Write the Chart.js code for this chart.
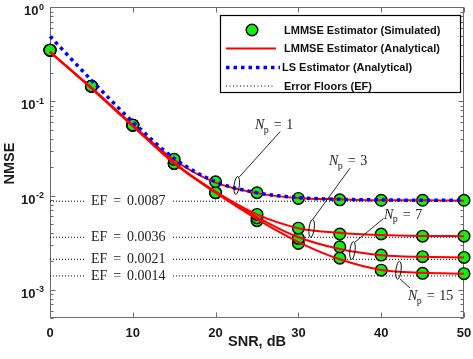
<!DOCTYPE html>
<html><head><meta charset="utf-8">
<script src="https://cdn.jsdelivr.net/npm/chart.js@4.4.1/dist/chart.umd.min.js"></script>
<style>html,body{margin:0;padding:0;background:#fff;overflow:hidden}</style>
</head><body>
<canvas id="c" width="473" height="359"></canvas>
<script>
// ---------------- data ----------------
const snrDb = [0, 5, 10, 15, 20, 25, 30, 35, 40, 45, 50];

const simNp1  = [0.35, 0.145, 0.0559, 0.0242, 0.0140, 0.0107, 0.0093, 0.0090, 0.0089, 0.0089, 0.0089];
const simNp3  = [0.35, 0.145, 0.0559, 0.0219, 0.0107, 0.0063, 0.0045, 0.0039, 0.0039, 0.0037, 0.0037];
const simNp7  = [0.35, 0.145, 0.0559, 0.0219, 0.0107, 0.0058, 0.0035, 0.00285, 0.00233, 0.00224, 0.0022];
const simNp15 = [0.35, 0.145, 0.0559, 0.0219, 0.0107, 0.0054, 0.0031, 0.00216, 0.00161, 0.00149, 0.00148];

const anaNp1  = [0.335, 0.140, 0.0560, 0.0238, 0.0137, 0.0106, 0.0094, 0.0091, 0.0089, 0.0089, 0.0088];
const anaNp3  = [0.335, 0.138, 0.0548, 0.0222, 0.0110, 0.0063, 0.0045, 0.0040, 0.0038, 0.00372, 0.0037];
const anaNp7  = [0.335, 0.138, 0.0548, 0.0220, 0.0108, 0.0059, 0.0036, 0.0027, 0.00232, 0.00223, 0.0022];
const anaNp15 = [0.335, 0.138, 0.0548, 0.0219, 0.0107, 0.0056, 0.0032, 0.0021, 0.00162, 0.00151, 0.00148];

const lsAnalytic = [0.49, 0.168, 0.0606, 0.0248, 0.0140, 0.0107, 0.0095, 0.0091, 0.0090, 0.0089, 0.0089];

const errorFloors = [0.0087, 0.0036, 0.0021, 0.0014];
const errorFloorTexts = ['0.0087', '0.0036', '0.0021', '0.0014'];

const pilotLabels = ['1', '3', '7', '15'];

const xTickValues = [0, 10, 20, 30, 40, 50];
const yDecades = [1, 0.1, 0.01, 0.001];
const yExponents = ['0', '-1', '-2', '-3'];

const legendLabels = ['LMMSE Estimator (Simulated)', 'LMMSE Estimator (Analytical)', 'LS Estimator (Analytical)', 'Error Floors (EF)'];
const xTitle = 'SNR, dB';
const yTitle = 'NMSE';

// annotation anchors in data coordinates (ellipse centre, leader start, leader end, text position)
const pilotNotes = [
  {ell:[22.55, 0.0128], a:[22.85, 0.0157], b:[27.8, 0.0477], t:[24.76, 0.0507]},
  {ell:[31.6, 0.00448], a:[31.76, 0.00562], b:[36.23, 0.0195], t:[33.7, 0.0210]},
  {ell:[36.53, 0.0026], a:[36.84, 0.0032], b:[40.28, 0.00569], t:[40.34, 0.00569]},
  {ell:[42.09, 0.00161], a:[42.27, 0.00130], b:[43.48, 0.00104], t:[43.24, 0.000776]}
];

// ---------------- build ----------------
const pts = arr => arr.map((v, i) => ({x: snrDb[i], y: v}));
const GREEN = '#11ee11';
const datasets = [];
datasets.push({label: legendLabels[2], data: pts(lsAnalytic), borderColor: '#0000ff', borderWidth: 3.5,
  borderDash: [3.5, 4], pointRadius: 0, cubicInterpolationMode: 'monotone', order: 0, clip: false});
[anaNp1, anaNp3, anaNp7, anaNp15].forEach(a => datasets.push({label: legendLabels[1], data: pts(a),
  borderColor: '#ff0000', borderWidth: 2, pointRadius: 0, cubicInterpolationMode: 'monotone', order: 1, clip: false}));
[simNp1, simNp3, simNp7, simNp15].forEach(a => datasets.push({label: legendLabels[0], data: pts(a),
  showLine: false, pointRadius: 5.8, pointBackgroundColor: GREEN, pointBorderColor: '#000',
  pointBorderWidth: 1.4, order: 2, clip: false}));
errorFloors.forEach(v => datasets.push({label: legendLabels[3],
  data: [{x: snrDb[0], y: v}, {x: snrDb[snrDb.length - 1], y: v}],
  borderColor: '#000', borderWidth: 1, borderDash: [1, 2], pointRadius: 0, order: 3}));

const AXIS = '#6a6a6a';
const SANS = '"Liberation Sans", Arial, sans-serif';
const SERIF = '"Liberation Serif", "Times New Roman", serif';

function drawNp(ctx, x, y, num) {
  ctx.fillStyle = '#222';
  ctx.textBaseline = 'alphabetic';
  ctx.textAlign = 'left';
  ctx.font = 'italic 14px ' + SERIF;
  ctx.fillText('N', x, y);
  let w = ctx.measureText('N').width;
  ctx.font = '10px ' + SERIF;
  ctx.fillText('p', x + w - 0.5, y + 3.5);
  w += ctx.measureText('p').width + 4.5;
  ctx.font = '14px ' + SERIF;
  ctx.fillText('=', x + w, y);
  w += ctx.measureText('=').width + 4.5;
  ctx.fillText(num, x + w, y);
}

const plugin = {
  id: 'matlabish',
  beforeDatasetsDraw(chart) {
    const {ctx, chartArea: ca, scales: {x, y}} = chart;
    ctx.save();
    ctx.strokeStyle = AXIS;
    ctx.lineWidth = 1;
    const L = Math.round(ca.left) + 0.5, R = Math.round(ca.right) - 0.5;
    const T = Math.round(ca.top) + 0.5, B = Math.round(ca.bottom) - 0.5;
    ctx.strokeRect(L, T, R - L, B - T);
    ctx.beginPath();
    xTickValues.forEach(t => {
      const px = Math.round(x.getPixelForValue(t)) + 0.5;
      ctx.moveTo(px, B); ctx.lineTo(px, B - 5);
      ctx.moveTo(px, T); ctx.lineTo(px, T + 5);
    });
    const ymin = y.min, ymax = y.max;
    [0.0001, 0.001, 0.01, 0.1, 1].forEach(d => {
      for (let m = 1; m <= 9; m++) {
        const v = m * d;
        if (v < ymin * 0.999 || v > ymax * 1.001) continue;
        const len = m === 1 ? 5 : 3;
        const py = Math.round(y.getPixelForValue(v)) + 0.5;
        ctx.moveTo(L, py); ctx.lineTo(L + len, py);
        ctx.moveTo(R, py); ctx.lineTo(R - len, py);
      }
    });
    ctx.stroke();
    ctx.restore();
  },
  afterDatasetsDraw(chart) {
    const {ctx, scales: {x, y}} = chart;
    ctx.save();
    // error-floor labels
    errorFloors.forEach((v, i) => {
      const cx = x.getPixelForValue(9.45), py = y.getPixelForValue(v);
      ctx.fillStyle = '#fff';
      ctx.fillRect(cx - 43, py - 5, 86, 10);
      ctx.fillStyle = '#222';
      ctx.font = '14px ' + SERIF;
      ctx.textBaseline = 'middle';
      const parts = ['EF', '=', errorFloorTexts[i]];
      const ws = parts.map(p => ctx.measureText(p).width);
      const total = ws[0] + ws[1] + ws[2] + 12;
      let px = cx - total / 2;
      ctx.textAlign = 'left';
      ctx.fillText(parts[0], px, py + 0.5); px += ws[0] + 6;
      ctx.fillText(parts[1], px, py + 0.5); px += ws[1] + 6;
      ctx.fillText(parts[2], px, py + 0.5);
    });
    // N_p annotations
    ctx.strokeStyle = '#111';
    pilotNotes.forEach((n, i) => {
      const ex = x.getPixelForValue(n.ell[0]), ey = y.getPixelForValue(n.ell[1]);
      ctx.lineWidth = 1;
      ctx.beginPath();
      ctx.ellipse(ex, ey, 2.6, 9, 0.12, 0, Math.PI * 2);
      ctx.stroke();
      ctx.lineWidth = 0.9;
      ctx.beginPath();
      ctx.moveTo(x.getPixelForValue(n.a[0]), y.getPixelForValue(n.a[1]));
      ctx.lineTo(x.getPixelForValue(n.b[0]), y.getPixelForValue(n.b[1]));
      ctx.stroke();
      drawNp(ctx, x.getPixelForValue(n.t[0]), y.getPixelForValue(n.t[1]), pilotLabels[i]);
    });
    ctx.restore();
  },
  afterDraw(chart) {
    const {ctx, chartArea: ca, scales: {x, y}} = chart;
    ctx.save();
    ctx.fillStyle = '#1a1a1a';
    // x tick labels
    ctx.font = 'bold 13px ' + SANS;
    ctx.textAlign = 'center';
    ctx.textBaseline = 'alphabetic';
    xTickValues.forEach(t => ctx.fillText(String(t), x.getPixelForValue(t), ca.bottom + 18.5));
    // y tick labels with superscripts
    yDecades.forEach((d, i) => {
      const py = y.getPixelForValue(d);
      ctx.font = 'bold 9px ' + SANS;
      const we = ctx.measureText(yExponents[i]).width;
      ctx.font = 'bold 13px ' + SANS;
      const wb = ctx.measureText('10').width;
      const right = ca.left - 6;
      ctx.textAlign = 'left';
      ctx.fillText('10', right - we - wb - 0.5, py + 8);
      ctx.font = 'bold 9px ' + SANS;
      ctx.fillText(yExponents[i], right - we, py + 2.5);
    });
    // axis titles
    ctx.font = 'bold 14.5px ' + SANS;
    ctx.textAlign = 'center';
    ctx.fillText(xTitle, (ca.left + ca.right) / 2, 346);
    ctx.save();
    ctx.translate(9.5, (ca.top + ca.bottom) / 2 + 1);
    ctx.rotate(-Math.PI / 2);
    ctx.textBaseline = 'middle';
    ctx.fillText(yTitle, 0, 0);
    ctx.restore();
    // legend
    const bx = 220, by = 15, bw = 240, bh = 77;
    ctx.fillStyle = '#fff';
    ctx.fillRect(bx, by, bw, bh);
    ctx.strokeStyle = '#000';
    ctx.lineWidth = 1.2;
    ctx.strokeRect(bx + 0.5, by + 0.5, bw, bh);
    const rows = [30, 48.5, 67.5, 86];
    // row 1 marker
    ctx.beginPath();
    ctx.arc(252, rows[0], 5.8, 0, Math.PI * 2);
    ctx.fillStyle = GREEN; ctx.fill();
    ctx.lineWidth = 1.4; ctx.strokeStyle = '#000'; ctx.stroke();
    // row 2 red
    ctx.beginPath(); ctx.strokeStyle = '#ff0000'; ctx.lineWidth = 2;
    ctx.moveTo(226, rows[1]); ctx.lineTo(276, rows[1]); ctx.stroke();
    // row 3 blue
    ctx.beginPath(); ctx.strokeStyle = '#0000ff'; ctx.lineWidth = 3.5; ctx.setLineDash([3.5, 4]);
    ctx.moveTo(226, rows[2]); ctx.lineTo(280, rows[2]); ctx.stroke();
    // row 4 black dotted
    ctx.beginPath(); ctx.strokeStyle = '#000'; ctx.lineWidth = 1; ctx.setLineDash([1, 2.5]);
    ctx.moveTo(226, rows[3]); ctx.lineTo(273, rows[3]); ctx.stroke();
    ctx.setLineDash([]);
    ctx.fillStyle = '#111';
    ctx.font = 'bold 11px ' + SANS;
    ctx.textAlign = 'left';
    ctx.textBaseline = 'middle';
    const tx = [284, 284, 282, 284];
    legendLabels.forEach((l, i) => ctx.fillText(l, tx[i], rows[i] + 0.5));
    ctx.restore();
  }
};

new Chart(document.getElementById('c'), {
  type: 'line',
  data: {datasets},
  options: {
    responsive: false,
    animation: false,
    devicePixelRatio: 1,
    layout: {padding: {left: 50, right: 9, top: 7, bottom: 41}},
    plugins: {legend: {display: false}, tooltip: {enabled: false}},
    scales: {
      x: {type: 'linear', min: 0, max: 50, display: false},
      y: {type: 'logarithmic', min: 0.0005, max: 1, display: false}
    }
  },
  plugins: [plugin]
});
</script>
</body></html>
